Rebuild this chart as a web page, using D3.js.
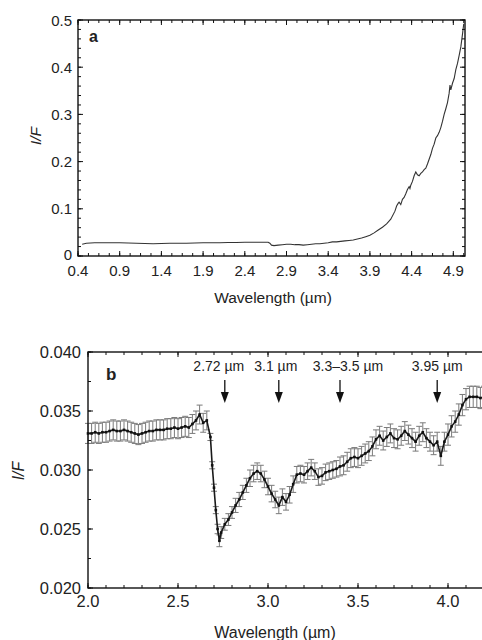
<!DOCTYPE html>
<html>
<head>
<meta charset="utf-8">
<script src="https://cdn.jsdelivr.net/npm/d3@7"></script>
<style>
  html, body { margin: 0; padding: 0; background: #fff; }
  svg text { font-family: "Liberation Sans", Arial, Helvetica, sans-serif; fill: #222; }
</style>
</head>
<body>
<svg id="chart" width="482" height="640"></svg>
<script>
// ---------- Panel a: full spectrum ----------
const aWave = [0.45,0.50,0.60,0.70,0.80,0.90,1.00,1.10,1.20,1.30,1.40,1.50,1.60,1.70,1.80,1.90,2.00,2.10,2.20,2.30,2.40,2.50,2.60,2.68,2.70,2.72,2.75,2.80,2.85,2.90,2.95,3.00,3.05,3.10,3.15,3.20,3.25,3.30,3.35,3.40,3.45,3.50,3.55,3.60,3.65,3.70,3.75,3.80,3.85,3.90,3.95,4.00,4.05,4.10,4.15,4.20,4.22,4.24,4.25,4.27,4.29,4.31,4.33,4.35,4.37,4.38,4.39,4.41,4.43,4.45,4.47,4.49,4.51,4.53,4.55,4.57,4.59,4.61,4.63,4.65,4.67,4.69,4.71,4.73,4.75,4.77,4.79,4.81,4.83,4.85,4.86,4.87,4.89,4.91,4.93,4.95,4.97,4.99,5.01,5.025];
const aIF   = [0.025,0.027,0.028,0.028,0.028,0.028,0.0275,0.027,0.0265,0.026,0.0265,0.027,0.027,0.027,0.0275,0.028,0.028,0.028,0.0285,0.0285,0.029,0.029,0.029,0.029,0.027,0.023,0.022,0.023,0.024,0.025,0.025,0.024,0.024,0.023,0.024,0.025,0.026,0.026,0.027,0.028,0.030,0.030,0.031,0.032,0.033,0.034,0.036,0.038,0.041,0.044,0.049,0.055,0.061,0.068,0.078,0.095,0.106,0.112,0.114,0.109,0.120,0.124,0.132,0.141,0.147,0.143,0.150,0.158,0.170,0.178,0.172,0.170,0.175,0.178,0.183,0.186,0.195,0.205,0.215,0.228,0.237,0.250,0.255,0.262,0.272,0.285,0.300,0.312,0.325,0.345,0.362,0.352,0.366,0.376,0.395,0.408,0.425,0.443,0.470,0.492];
const aXTickLabels = [0.4,0.9,1.4,1.9,2.4,2.9,3.4,3.9,4.4,4.9];
const aYTickLabels = [0,0.1,0.2,0.3,0.4,0.5];

// ---------- Panel b: 2-4.2 µm detail with error bars ----------
const bWave = [2.00,2.02,2.04,2.06,2.08,2.10,2.12,2.14,2.16,2.18,2.20,2.22,2.24,2.26,2.28,2.30,2.32,2.34,2.36,2.38,2.40,2.42,2.44,2.46,2.48,2.50,2.52,2.54,2.56,2.58,2.60,2.62,2.64,2.66,2.68,2.69,2.70,2.71,2.72,2.73,2.74,2.76,2.78,2.80,2.82,2.84,2.86,2.88,2.90,2.92,2.94,2.96,2.98,3.00,3.02,3.04,3.06,3.08,3.10,3.12,3.14,3.16,3.18,3.20,3.22,3.24,3.26,3.28,3.30,3.32,3.34,3.36,3.38,3.40,3.42,3.44,3.46,3.48,3.50,3.52,3.54,3.56,3.58,3.60,3.62,3.64,3.66,3.68,3.70,3.72,3.74,3.76,3.78,3.80,3.82,3.84,3.86,3.88,3.90,3.92,3.94,3.96,3.98,4.00,4.02,4.04,4.06,4.08,4.10,4.12,4.14,4.16,4.18,4.20];
const bIF = [0.0331,0.0331,0.0332,0.0331,0.0332,0.0332,0.0333,0.0334,0.0333,0.0333,0.0334,0.0333,0.0332,0.0331,0.0330,0.0331,0.0332,0.0333,0.0333,0.0334,0.0334,0.0334,0.0335,0.0335,0.0336,0.0335,0.0336,0.0337,0.0336,0.0339,0.0342,0.0347,0.0340,0.0342,0.0328,0.0304,0.0285,0.0266,0.0250,0.0240,0.0247,0.0254,0.0258,0.0264,0.0270,0.0275,0.0281,0.0287,0.0293,0.0297,0.0299,0.0297,0.0292,0.0286,0.0280,0.0275,0.0270,0.0277,0.0273,0.0279,0.0288,0.0296,0.0297,0.0296,0.0299,0.0302,0.0299,0.0294,0.0295,0.0298,0.0299,0.0300,0.0301,0.0303,0.0304,0.0307,0.0310,0.0311,0.0310,0.0312,0.0314,0.0316,0.0320,0.0326,0.0329,0.0325,0.0328,0.0331,0.0327,0.0326,0.0329,0.0333,0.0330,0.0327,0.0324,0.0329,0.0332,0.0327,0.0324,0.0321,0.0324,0.0312,0.0324,0.0330,0.0337,0.0341,0.0347,0.0355,0.0360,0.0362,0.0362,0.0362,0.0361,0.0362];
const bErr = [0.00085,0.00085,0.00085,0.00085,0.00085,0.00085,0.00085,0.00085,0.00085,0.00085,0.00085,0.00085,0.00085,0.00085,0.00085,0.00085,0.00085,0.00085,0.00085,0.00085,0.00085,0.00085,0.00085,0.00085,0.00085,0.00085,0.00085,0.00085,0.00085,0.0008,0.0008,0.0008,0.0008,0.0008,0.0003,0.0003,0.0003,0.0003,0.0004,0.0005,0.0005,0.0005,0.0005,0.0005,0.0006,0.0006,0.0006,0.0006,0.0007,0.0007,0.0007,0.0007,0.0007,0.0007,0.0007,0.0007,0.0007,0.0007,0.0007,0.0007,0.0007,0.0007,0.0007,0.0007,0.0007,0.0007,0.0007,0.0007,0.0007,0.0007,0.0007,0.0007,0.0007,0.0008,0.0008,0.0008,0.0008,0.0008,0.0008,0.0008,0.0008,0.0008,0.0008,0.0008,0.0008,0.0008,0.0008,0.0008,0.0008,0.0008,0.0008,0.0008,0.0008,0.0008,0.0008,0.0008,0.0008,0.0008,0.0008,0.0008,0.0008,0.0008,0.0008,0.0009,0.0009,0.0009,0.0009,0.0009,0.0009,0.0009,0.0009,0.0009,0.0009,0.0009];
const bXTickLabels = [2.0,2.5,3.0,3.5,4.0];
const bYTickLabels = [0.020,0.025,0.030,0.035,0.040];
const bMarkWave = [2.76,3.06,3.40,3.94];
const bMarkText = ["2.72 \u00b5m","3.1 \u00b5m","3.3\u20133.5 \u00b5m","3.95 \u00b5m"];

const svg = d3.select("#chart");

function frameTicks(g, x, y, xMaj, xMin, yMaj, yMin, sides) {
  const [x0, x1] = x.range();
  const [y0, y1] = y.range(); // y0 bottom, y1 top
  const tk = g.append("g").attr("stroke", "#111").attr("stroke-width", 1);
  const maj = 5, mn = 3;
  const addX = (vals, len) => vals.forEach(v => {
    const px = x(v);
    tk.append("line").attr("x1", px).attr("x2", px).attr("y1", y0).attr("y2", y0 - len);
    if (sides.top) tk.append("line").attr("x1", px).attr("x2", px).attr("y1", y1).attr("y2", y1 + len);
  });
  const addY = (vals, len) => vals.forEach(v => {
    const py = y(v);
    tk.append("line").attr("x1", x0).attr("x2", x0 + len).attr("y1", py).attr("y2", py);
    if (sides.right) tk.append("line").attr("x1", x1).attr("x2", x1 - len).attr("y1", py).attr("y2", py);
  });
  addX(xMin, mn); addX(xMaj, maj);
  addY(yMin, mn); addY(yMaj, maj);
  g.append("rect").attr("x", x0).attr("y", y1).attr("width", x1 - x0).attr("height", y0 - y1)
    .attr("fill", "none").attr("stroke", "#111").attr("stroke-width", 1.4);
}

// ===== Panel a =====
{
  const x = d3.scaleLinear().domain([0.4, 5.04]).range([78, 465]);
  const y = d3.scaleLinear().domain([0, 0.5]).range([256, 20]);
  const g = svg.append("g");
  const data = aWave.map((w, i) => ({ w, v: aIF[i] }));
  g.append("path").datum(data)
    .attr("fill", "none").attr("stroke", "#333").attr("stroke-width", 1.1)
    .attr("d", d3.line().x(d => x(d.w)).y(d => y(d.v)));
  const xMinor = d3.range(0.4, 5.04, 0.125);
  const yMinor = d3.range(0, 0.5001, 0.02);
  frameTicks(g, x, y, aXTickLabels, xMinor, aYTickLabels, yMinor, { top: true, right: true });
  g.selectAll(".xl").data(aXTickLabels).join("text")
    .attr("x", d => x(d)).attr("y", 276).attr("text-anchor", "middle")
    .attr("font-size", 15).text(d => d3.format(".1f")(d));
  g.selectAll(".yl").data(aYTickLabels).join("text")
    .attr("x", 72).attr("y", d => y(d) + (d === 0 ? 3.5 : 5.5)).attr("text-anchor", "end")
    .attr("font-size", 15).text(d => d === 0 ? "0" : d3.format(".1f")(d));
  g.append("text").attr("x", 273).attr("y", 303).attr("text-anchor", "middle")
    .attr("font-size", 15.5).text("Wavelength (\u00b5m)");
  g.append("text").attr("transform", "translate(41,136) rotate(-90)").attr("text-anchor", "middle")
    .attr("font-size", 15.5).attr("font-style", "italic").text("I/F");
  g.append("text").attr("x", 89).attr("y", 42).attr("font-size", 16).attr("font-weight", "bold").text("a");
}

// ===== Panel b =====
{
  const x = d3.scaleLinear().domain([2.0, 4.2]).range([88, 484]);
  const y = d3.scaleLinear().domain([0.020, 0.040]).range([588, 352]);
  const g = svg.append("g");
  const data = bWave.map((w, i) => ({ w, v: bIF[i], e: bErr[i] }));
  const eb = g.append("g").attr("stroke", "#7a7a7a").attr("stroke-width", 1);
  data.forEach(d => {
    const px = x(d.w), t = y(d.v + d.e), b = y(d.v - d.e);
    eb.append("line").attr("x1", px).attr("x2", px).attr("y1", t).attr("y2", b);
    eb.append("line").attr("x1", px - 3).attr("x2", px + 3).attr("y1", t).attr("y2", t);
    eb.append("line").attr("x1", px - 3).attr("x2", px + 3).attr("y1", b).attr("y2", b);
  });
  g.append("path").datum(data)
    .attr("fill", "none").attr("stroke", "#1a1a1a").attr("stroke-width", 1.6)
    .attr("d", d3.line().x(d => x(d.w)).y(d => y(d.v)));
  g.selectAll(".pt").data(data).join("rect")
    .attr("x", d => x(d.w) - 1.3).attr("y", d => y(d.v) - 1.3)
    .attr("width", 2.6).attr("height", 2.6).attr("fill", "#111");
  const xMinor = d3.range(2.0, 4.21, 0.1);
  const yMinor = d3.range(0.020, 0.0401, 0.0025);
  frameTicks(g, x, y, bXTickLabels, xMinor, bYTickLabels, yMinor, { top: true, right: false });
  g.selectAll(".xl").data(bXTickLabels).join("text")
    .attr("x", d => x(d)).attr("y", 607).attr("text-anchor", "middle")
    .attr("font-size", 16.5).text(d => d3.format(".1f")(d));
  g.selectAll(".yl").data(bYTickLabels).join("text")
    .attr("x", 81).attr("y", d => y(d) + 6).attr("text-anchor", "end")
    .attr("font-size", 16.5).text(d => d3.format(".3f")(d));
  g.append("text").attr("x", 275).attr("y", 638).attr("text-anchor", "middle")
    .attr("font-size", 16).text("Wavelength (\u00b5m)");
  g.append("text").attr("transform", "translate(24,471) rotate(-90)").attr("text-anchor", "middle")
    .attr("font-size", 16).attr("font-style", "italic").text("I/F");
  g.append("text").attr("x", 106).attr("y", 380).attr("font-size", 17).attr("font-weight", "bold").text("b");
  // arrows and labels
  const labelDx = [-6, -3, 8, 0];
  bMarkWave.forEach((w, i) => {
    const px = x(w);
    g.append("line").attr("x1", px).attr("x2", px).attr("y1", 380).attr("y2", 393)
      .attr("stroke", "#111").attr("stroke-width", 1.3);
    g.append("path").attr("d", `M${px - 4},${392} L${px + 4},${392} L${px},${403} Z`).attr("fill", "#111");
    g.append("text").attr("x", px + labelDx[i]).attr("y", 371).attr("text-anchor", "middle")
      .attr("font-size", 14).text(bMarkText[i]);
  });
}
</script>
</body>
</html>
